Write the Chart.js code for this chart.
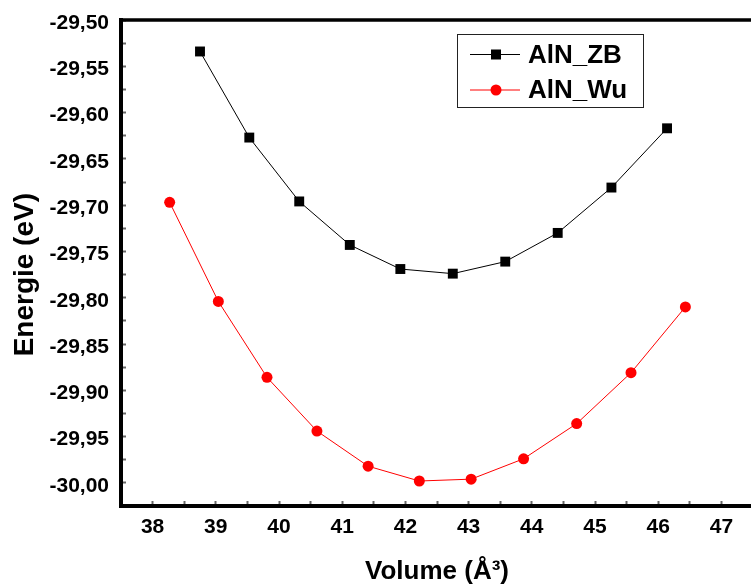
<!DOCTYPE html>
<html><head><meta charset="utf-8">
<script src="https://cdn.jsdelivr.net/npm/chart.js@4.4.1/dist/chart.umd.min.js"></script>
<style>html,body{margin:0;padding:0;overflow:hidden;background:#fff;width:751px;height:585px}#wrap{width:760px;height:585px}canvas{display:block}</style>
</head><body><div id="wrap"><canvas id="c" width="760" height="585"></canvas></div>
<script>
const seriesNames = ['AlN_ZB', 'AlN_Wu'];
const zbVolume = [38.75, 39.53, 40.32, 41.12, 41.92, 42.75, 43.58, 44.41, 45.26, 46.14];
const zbEnergy = [-29.534, -29.627, -29.696, -29.743, -29.769, -29.774, -29.761, -29.730, -29.681, -29.617];
const wuVolume = [38.27, 39.04, 39.81, 40.60, 41.41, 42.22, 43.04, 43.87, 44.71, 45.57, 46.43];
const wuEnergy = [-29.697, -29.804, -29.886, -29.944, -29.982, -29.998, -29.996, -29.974, -29.936, -29.881, -29.810];
const xTitle = 'Volume (Å³)';
const yTitle = 'Energie (eV)   ';

const FONT = '"Liberation Sans", Arial, sans-serif';

function pts(xs, ys) { return xs.map((x, i) => ({x: x, y: ys[i]})); }

const framePlugin = {
  id: 'frame',
  afterDraw(chart) {
    const {ctx, chartArea: a} = chart;
    ctx.save();
    ctx.strokeStyle = '#000';
    ctx.lineWidth = 3.5;
    ctx.beginPath();
    ctx.moveTo(a.left - 2, a.top);
    ctx.lineTo(a.right, a.top);
    ctx.lineTo(a.right, a.bottom);
    ctx.stroke();
    ctx.restore();
  }
};

const legendPlugin = {
  id: 'boxLegend',
  afterDraw(chart) {
    const ctx = chart.ctx;
    const bx = 457, by = 34, bw = 186, bh = 73;
    ctx.save();
    ctx.fillStyle = '#fff';
    ctx.fillRect(bx, by, bw, bh);
    ctx.strokeStyle = '#222';
    ctx.lineWidth = 1;
    ctx.strokeRect(bx + 0.5, by + 0.5, bw, bh);
    const rows = [54.5, 90];
    chart.data.datasets.forEach((ds, i) => {
      const y = rows[i];
      ctx.strokeStyle = ds.borderColor;
      ctx.lineWidth = 1;
      ctx.beginPath();
      ctx.moveTo(470, y);
      ctx.lineTo(520, y);
      ctx.stroke();
      ctx.fillStyle = ds.pointBackgroundColor;
      if (ds.pointStyle === 'rect') {
        ctx.fillRect(496 - 5, y - 5, 10, 10);
      } else {
        ctx.beginPath();
        ctx.arc(496, y, 5.5, 0, Math.PI * 2);
        ctx.fill();
      }
      ctx.fillStyle = '#000';
      ctx.font = 'bold 26px ' + FONT;
      ctx.textBaseline = 'middle';
      ctx.textAlign = 'left';
      ctx.fillText(ds.label, 528, y + 1);
    });
    ctx.restore();
  }
};

function isMultiple(v, step) {
  return Math.abs(Math.round(v / step) * step - v) < 1e-6;
}

function noPad(s) { s.paddingTop = 0; s.paddingBottom = 0; s.paddingLeft = 0; s.paddingRight = 0; }

new Chart(document.getElementById('c'), {
  type: 'line',
  data: {
    datasets: [
      {
        label: seriesNames[0],
        data: pts(zbVolume, zbEnergy),
        borderColor: '#000000',
        borderWidth: 1,
        pointStyle: 'rect',
        pointRadius: 7,
        pointBackgroundColor: '#000000',
        pointBorderColor: '#000000',
        pointBorderWidth: 0,
        tension: 0
      },
      {
        label: seriesNames[1],
        data: pts(wuVolume, wuEnergy),
        borderColor: '#ff0000',
        borderWidth: 1,
        pointStyle: 'circle',
        pointRadius: 5.5,
        pointBackgroundColor: '#ff0000',
        pointBorderColor: '#ff0000',
        pointBorderWidth: 0,
        tension: 0
      }
    ]
  },
  options: {
    responsive: false,
    animation: false,
    layout: {padding: {top: 20, right: 5, left: 0, bottom: 0}},
    plugins: {legend: {display: false}, tooltip: {enabled: false}},
    scales: {
      x: {
        type: 'linear',
        min: 37.5,
        max: 47.5,
        afterFit(s) { s.height = 79; noPad(s); },
        afterBuildTicks(s) {
          const t = [];
          for (let v = 37.5; v <= 47.5 + 1e-9; v += 0.5) t.push({value: Math.round(v * 10) / 10});
          s.ticks = t;
        },
        border: {display: true, color: '#000', width: 4},
        grid: {drawOnChartArea: false, drawTicks: true, tickLength: -5, tickWidth: 2, color: '#666'},
        ticks: {
          padding: 14,
          color: '#000',
          font: {family: FONT, size: 21, weight: 'bold'},
          maxRotation: 0,
          autoSkip: false,
          callback: (v) => isMultiple(v, 1) ? String(Math.round(v)) : ''
        },
        title: {
          display: true,
          text: xTitle,
          color: '#000',
          font: {family: FONT, size: 26, weight: 'bold', lineHeight: 1.0},
          padding: {top: 0, bottom: 0}
        }
      },
      y: {
        type: 'linear',
        min: -30.025,
        max: -29.5,
        afterFit(s) { s.width = 121; noPad(s); },
        afterBuildTicks(s) {
          const t = [];
          for (let k = 0; k <= 21; k++) t.push({value: Math.round((-30.025 + k * 0.025) * 1000) / 1000});
          s.ticks = t;
        },
        border: {display: true, color: '#000', width: 4},
        grid: {drawOnChartArea: false, drawTicks: true, tickLength: -5, tickWidth: 2, color: '#666'},
        ticks: {
          padding: 17,
          labelOffset: 3,
          color: '#000',
          font: {family: FONT, size: 21, weight: 'bold'},
          autoSkip: false,
          callback: (v) => isMultiple(v, 0.05) ? v.toFixed(2).replace('.', ',') : ''
        },
        title: {
          display: true,
          text: yTitle,
          color: '#000',
          font: {family: FONT, size: 28, weight: 'bold'},
          padding: {top: 8, bottom: 0}
        }
      }
    }
  },
  plugins: [framePlugin, legendPlugin]
});
</script>
</body></html>
